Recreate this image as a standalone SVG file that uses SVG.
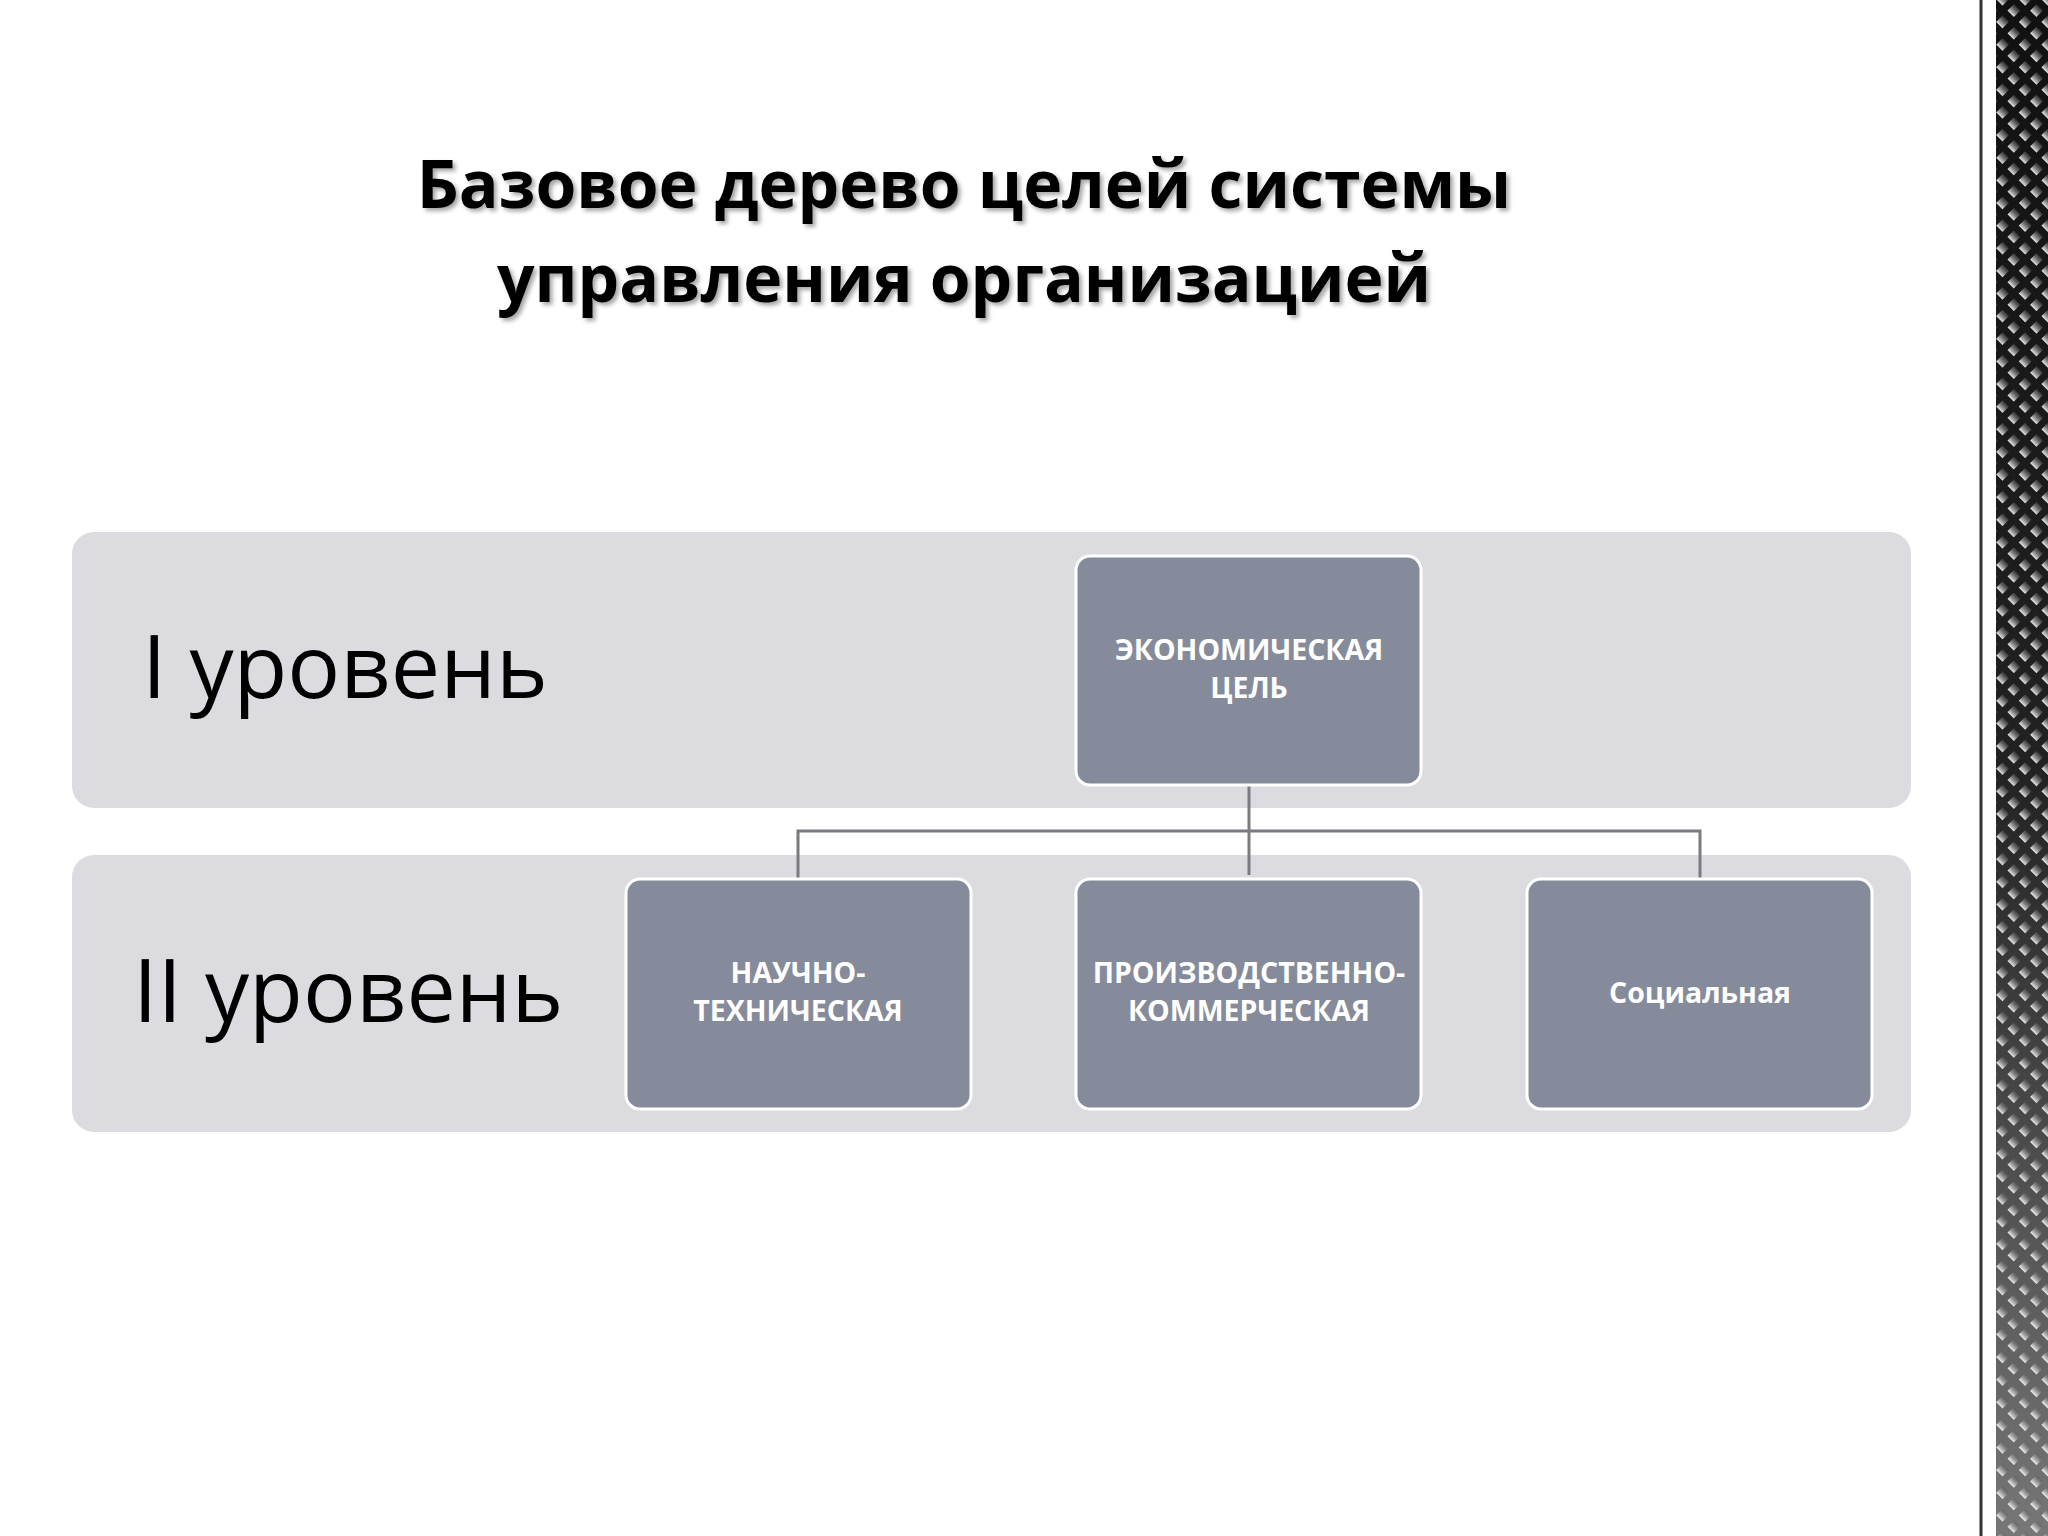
<svg xmlns="http://www.w3.org/2000/svg" width="2048" height="1536" viewBox="0 0 2048 1536">
<defs>
<linearGradient id="sg" x1="0" y1="0" x2="0" y2="1"><stop offset="0" stop-color="#111"/><stop offset="0.5" stop-color="#222"/><stop offset="1" stop-color="#777"/></linearGradient>
<linearGradient id="dg" x1="0" y1="0" x2="0" y2="1"><stop offset="0" stop-color="#555" stop-opacity="0.5"/><stop offset="1" stop-color="#fff" stop-opacity="0.9"/></linearGradient>
<pattern id="dm" width="16" height="16" patternUnits="userSpaceOnUse" patternTransform="rotate(45)"><rect x="3" y="3" width="9" height="9" fill="url(#dg)"/></pattern>
<filter id="sh" x="-5%" y="-20%" width="110%" height="140%"><feDropShadow dx="3" dy="3" stdDeviation="2" flood-color="#000" flood-opacity="0.35"/></filter>
<style>
.band{fill:#dcdce0}
.box{fill:#858b9b;stroke:#fff;stroke-width:3}
.bt{font-family:"Open Sans","Noto Sans",sans-serif;font-weight:bold;font-size:28.5px;fill:#fff;text-anchor:middle}
.lv{font-family:"Open Sans","Noto Sans",sans-serif;font-size:88px;fill:#000}
.ttl{font-family:"Open Sans","Noto Sans",sans-serif;font-weight:bold;font-size:66px;fill:#000;text-anchor:middle}
.cn{fill:none;stroke:#7a7a80;stroke-width:3}
</style>
</defs>
<rect width="2048" height="1536" fill="#fff"/>
<line x1="1981" y1="0" x2="1981" y2="1536" stroke="#333" stroke-width="3"/>
<rect x="1996" y="0" width="52" height="1536" fill="url(#sg)"/>
<rect x="1996" y="0" width="52" height="1536" fill="url(#dm)"/>
<g filter="url(#sh)">
<text class="ttl" x="964" y="208">Базовое дерево целей системы</text>
<text class="ttl" x="964" y="302">управления организацией</text>
</g>
<g id="band1"><rect class="band" x="72" y="532" width="1839" height="276" rx="22"/><text class="lv" x="142" y="698">I уровень</text></g>
<g id="band2"><rect class="band" x="72" y="855" width="1839" height="277" rx="22"/><text class="lv" x="133" y="1022">II уровень</text></g>
<g id="connectors">
<path class="cn" d="M1249 785V875M798 879V831H1700V879"/>
</g>
<g id="n1"><rect class="box" x="1076" y="556" width="345" height="229" rx="14"/><text class="bt" x="1249" y="660">ЭКОНОМИЧЕСКАЯ</text><text class="bt" x="1249" y="698">ЦЕЛЬ</text></g>
<g id="n2"><rect class="box" x="626" y="879" width="345" height="230" rx="14"/><text class="bt" x="798" y="983">НАУЧНО-</text><text class="bt" x="798" y="1021">ТЕХНИЧЕСКАЯ</text></g>
<g id="n3"><rect class="box" x="1076" y="879" width="345" height="230" rx="14"/><text class="bt" x="1249" y="983">ПРОИЗВОДСТВЕННО-</text><text class="bt" x="1249" y="1021">КОММЕРЧЕСКАЯ</text></g>
<g id="n4"><rect class="box" x="1527" y="879" width="345" height="230" rx="14"/><text class="bt" x="1700" y="1003">Социальная</text></g>
</svg>
